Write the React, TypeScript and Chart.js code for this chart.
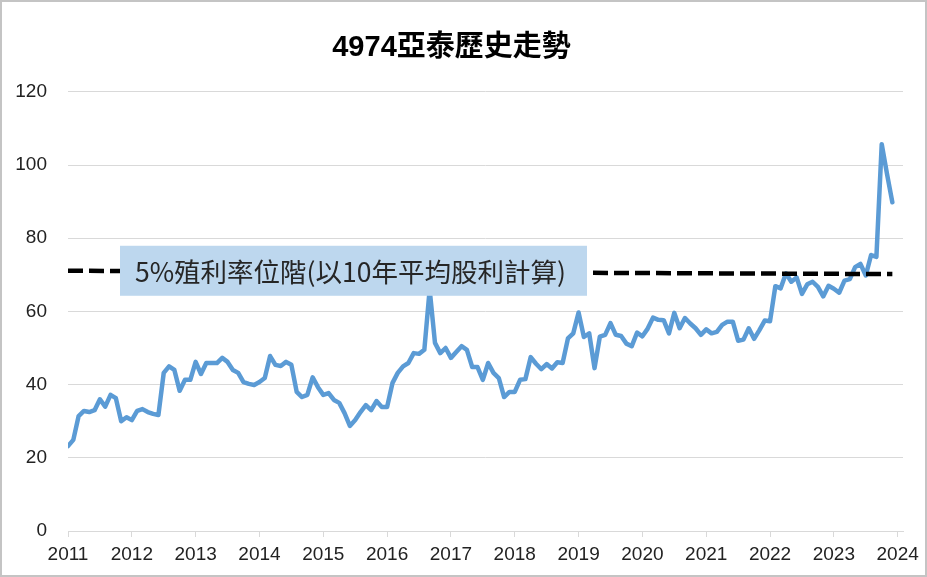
import React, { useEffect, useRef } from "react";
import { Chart, registerables } from "chart.js";

Chart.register(...registerables);

const TITLE = "4974亞泰歷史走勢";
const LABEL_TEXT = "5%殖利率位階(以10年平均股利計算)";
const YEARS = ["2011", "2012", "2013", "2014", "2015", "2016", "2017", "2018", "2019", "2020", "2021", "2022", "2023", "2024"];

// Monthly prices, Jan 2011 .. Dec 2023
const PRICES = [
  // 2011
  23.2, 24.9, 31.4, 32.8, 32.5, 33.0, 36.0, 34.0, 37.2, 36.3, 30.0, 31.1,
  // 2012
  30.3, 32.8, 33.3, 32.5, 32.0, 31.7, 43.2, 45.0, 44.0, 38.3, 41.3, 41.3,
  // 2013
  46.2, 42.9, 45.9, 45.9, 45.9, 47.3, 46.2, 44.0, 43.2, 40.7, 40.2, 39.9,
  // 2014
  40.7, 41.8, 47.8, 45.4, 45.1, 46.2, 45.4, 38.0, 36.6, 37.2, 42.0, 39.3,
  // 2015
  37.2, 37.7, 35.8, 35.0, 32.2, 28.7, 30.3, 32.5, 34.4, 33.0, 35.5, 33.9,
  // 2016
  33.9, 40.4, 43.2, 45.0, 45.9, 48.6, 48.4, 49.5, 66.0, 51.4, 48.6, 50.0,
  // 2017
  47.3, 48.9, 50.5, 49.5, 44.8, 44.8, 41.3, 45.9, 43.2, 41.8, 36.6, 38.0,
  // 2018
  38.0, 41.3, 41.5, 47.5, 45.7, 44.2, 45.6, 44.4, 46.1, 45.9, 52.6, 54.0,
  // 2019
  59.7, 53.0, 54.0, 44.5, 53.1, 53.6, 56.8, 53.6, 53.3, 51.2, 50.5, 54.2,
  // 2020
  53.2, 55.3, 58.3, 57.7, 57.6, 54.0, 59.6, 55.4, 58.2, 56.7, 55.4, 53.6,
  // 2021
  55.1, 54.0, 54.4, 56.3, 57.2, 57.2, 52.0, 52.3, 55.4, 52.5, 54.9, 57.5,
  // 2022
  57.3, 66.9, 66.3, 70.4, 68.1, 69.3, 64.8, 67.4, 68.1, 66.7, 64.1, 67.0,
  // 2023
  66.2, 65.1, 68.4, 68.8, 72.1, 73.0, 69.8, 75.4, 74.9, 105.7, 97.5, 89.8,
];

// 5% yield level line: start and end values
const YIELD_LINE = [71.1, 70.2];
const Y_TICKS = [0, 20, 40, 60, 80, 100, 120];

const FONT = "'Liberation Sans', Arial, 'Noto Sans CJK TC', sans-serif";

export default function App() {
  const ref = useRef<HTMLCanvasElement | null>(null);

  useEffect(() => {
    const canvas = ref.current;
    if (!canvas) return;

    const labelPlugin = {
      id: "yieldLabel",
      afterDatasetsDraw(chart: any) {
        const { ctx, chartArea, scales } = chart;
        const cy = scales.y.getPixelForValue(YIELD_LINE[0]);
        const left = chartArea.left + 52;
        const w = 467;
        const h = 50;
        ctx.save();
        ctx.fillStyle = "#bdd7ee";
        ctx.fillRect(left, cy - h / 2, w, h);
        ctx.fillStyle = "#262626";
        ctx.font = "26.5px 'Noto Sans CJK TC', sans-serif";
        ctx.textBaseline = "middle";
        ctx.textAlign = "left";
        ctx.fillText(LABEL_TEXT, left + 15, cy + 1);
        ctx.restore();
      },
    };

    const lastIdx = PRICES.length - 1;

    const chart = new Chart(canvas, {
      type: "line",
      data: {
        datasets: [
          {
            label: "5%",
            data: [
              { x: 0, y: YIELD_LINE[0] },
              { x: lastIdx, y: YIELD_LINE[1] },
            ],
            borderColor: "#000000",
            borderWidth: 4.5,
            borderDash: [15, 6],
            pointRadius: 0,
            fill: false,
            order: 0,
          },
          {
            label: "price",
            data: PRICES.map((v, i) => ({ x: i, y: v })),
            borderColor: "#5b9bd5",
            borderWidth: 4.5,
            pointRadius: 0,
            tension: 0,
            borderJoinStyle: "round",
            borderCapStyle: "round",
            fill: false,
            order: 1,
          },
        ],
      },
      options: {
        responsive: false,
        animation: false,
        devicePixelRatio: 1,
        layout: { padding: { left: 0, right: 24, top: 0, bottom: 0 } },
        plugins: {
          legend: { display: false },
          tooltip: { enabled: false },
          title: {
            display: true,
            text: TITLE,
            color: "#000",
            font: { size: 29, weight: "bold", family: FONT },
            padding: { top: 31, bottom: 26 },
          },
        },
        scales: {
          x: {
            type: "linear",
            min: 0,
            max: 157,
            afterBuildTicks: (scale: any) => {
              scale.ticks = YEARS.map((_, k) => ({ value: k * 12 }));
            },
            afterFit: (scale: any) => {
              scale.height = 46;
            },
            ticks: {
              autoSkip: false,
              maxRotation: 0,
              padding: 6,
              color: "#222",
              font: { size: 19, family: FONT },
              callback: (value: any) => YEARS[Math.round(Number(value) / 12)],
            },
            grid: {
              drawOnChartArea: false,
              drawTicks: true,
              tickLength: 6,
              color: "#d9d9d9",
            },
            border: { display: true, color: "#d9d9d9", width: 1 },
          },
          y: {
            min: 0,
            max: 120,
            afterBuildTicks: (scale: any) => {
              scale.ticks = Y_TICKS.map((v) => ({ value: v }));
            },
            afterFit: (scale: any) => {
              scale.width = 68;
            },
            ticks: {
              padding: 21,
              color: "#222",
              font: { size: 19, family: FONT },
            },
            grid: { color: "#d9d9d9", drawTicks: false, lineWidth: 1 },
            border: { display: false },
          },
        },
      },
      plugins: [labelPlugin],
    });

    return () => chart.destroy();
  }, []);

  return (
    <div style={{ position: "fixed", left: 0, top: 0, width: 927, height: 577, background: "#fff" }}>
      <canvas ref={ref} width={927} height={577} style={{ display: "block", width: 927, height: 577 }} />
      <div
        style={{
          position: "absolute",
          left: 0,
          top: 0,
          width: 927,
          height: 577,
          boxSizing: "border-box",
          border: "2px solid #c4c4c4",
          pointerEvents: "none",
        }}
      />
    </div>
  );
}
